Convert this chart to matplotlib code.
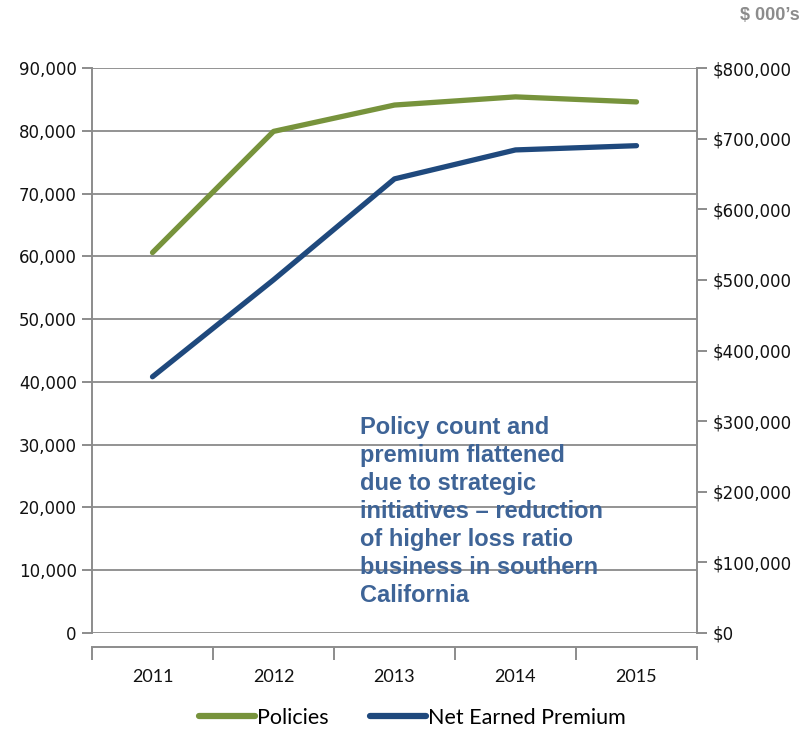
import matplotlib
matplotlib.use("Agg")
import matplotlib.pyplot as plt
from matplotlib.ticker import FuncFormatter, FixedLocator
from matplotlib.lines import Line2D

years = ["2011", "2012", "2013", "2014", "2015"]
policies = [60600, 79900, 84100, 85400, 84600]
net_earned_premium = [362800, 500000, 643000, 684000, 690000]
left_ticks = list(range(0, 90001, 10000))
right_ticks = list(range(0, 800001, 100000))
note = ("Policy count and\npremium flattened\ndue to strategic\n"
        "initiatives \u2013 reduction\nof higher loss ratio\n"
        "business in southern\nCalifornia")

GREEN = "#77933C"
BLUE = "#1F497D"
GRAY = "#8C8C8C"
TXT_BLUE = "#3E6497"

plt.rcParams["font.family"] = ["DejaVu Sans"]

fig = plt.figure(figsize=(8.07, 7.31), dpi=100)
ax = fig.add_axes([92/807, 1-633/731, (697-92)/807, (633-68)/731])
ax2 = ax.twinx()

x = list(range(len(years)))
ax.plot(x, policies, color=GREEN, lw=3.8, solid_capstyle="round", solid_joinstyle="round", zorder=3)
ax2.plot(x, net_earned_premium, color=BLUE, lw=3.8, solid_capstyle="round", solid_joinstyle="round", zorder=3)

ax.set_xlim(-0.5, len(years) - 0.5)
ax.set_ylim(0, 90000)
ax2.set_ylim(0, 800000)

ax.set_yticks(left_ticks)
ax.yaxis.set_major_formatter(FuncFormatter(lambda v, p: f"{int(v):,}"))
ax2.set_yticks(right_ticks)
ax2.yaxis.set_major_formatter(FuncFormatter(lambda v, p: f"${int(v):,}"))

ax.grid(axis="y", color="#939393", lw=1.4, zorder=0)
ax.set_axisbelow(True)

for s in ["top"]:
    ax.spines[s].set_visible(False)
    ax2.spines[s].set_visible(False)
ax2.spines["left"].set_visible(False)
ax2.spines["bottom"].set_visible(False)
ax.spines["right"].set_visible(False)
for sp in [ax.spines["left"], ax.spines["bottom"], ax2.spines["right"]]:
    sp.set_color(GRAY)
    sp.set_linewidth(1.4)
ax.spines["bottom"].set_position(("outward", 10))

ax.set_xticks(x)
ax.set_xticklabels(years, fontsize=13, family=["Lato", "DejaVu Sans"], color="#111111")
ax.xaxis.set_minor_locator(FixedLocator([i - 0.5 for i in range(len(years) + 1)]))
ax.tick_params(axis="x", which="major", length=0, pad=16)
ax.tick_params(axis="x", which="minor", length=9, width=1.4, color=GRAY, direction="out")
ax.tick_params(axis="y", length=7, width=1.4, color=GRAY, labelsize=12, labelcolor="#111111", pad=4)
ax2.tick_params(axis="y", length=7, width=1.4, color=GRAY, labelsize=12, labelcolor="#111111", pad=4)

ax.text(360/807, 1-416/731, note, transform=fig.transFigure, ha="left", va="top",
        fontsize=17, fontweight="bold", color=TXT_BLUE, family=["Liberation Sans", "DejaVu Sans"],
        linespacing=1.28, zorder=5)

fig.text(770/807, 1-15/731, "$ 000\u2019s", ha="center", va="center", fontsize=13,
         fontweight="bold", color="#8C8C8C", family=["Liberation Sans", "DejaVu Sans"])

handles = [Line2D([], [], color=GREEN, lw=4.5, solid_capstyle="round"),
           Line2D([], [], color=BLUE, lw=4.5, solid_capstyle="round")]
fig.legend(handles, ["Policies", "Net Earned Premium"], loc="center", bbox_to_anchor=(0.511, 1-718/731),
           ncol=2, frameon=False, prop={"family": ["Lato", "DejaVu Sans"], "size": 15.5},
           handlelength=2.6, handletextpad=0.1, columnspacing=1.9)

fig.savefig("out.png", dpi=100)
